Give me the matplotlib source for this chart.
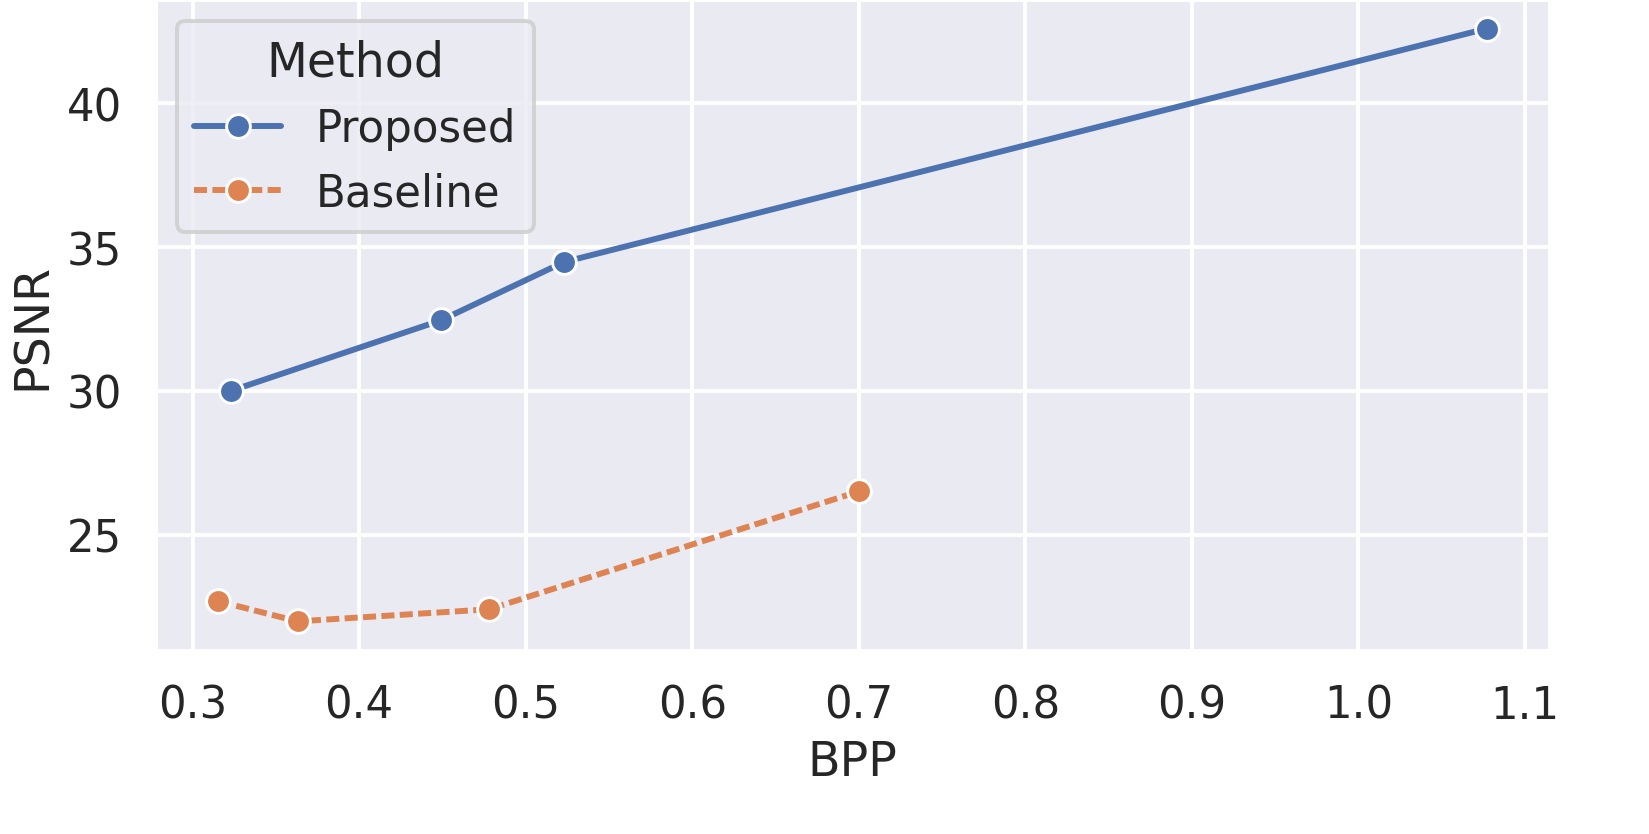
import matplotlib
matplotlib.use("Agg")
import matplotlib.pyplot as plt
import numpy as np
import pandas as pd
import seaborn as sns

# values
proposed_bpp = [0.323, 0.449, 0.523, 1.077]
proposed_psnr = [30.0, 32.45, 34.48, 42.6]

baseline_bpp = [0.3155, 0.363, 0.478, 0.700]
baseline_psnr = [22.68, 21.98, 22.40, 26.50]

methods = ["Proposed", "Baseline"]

df = pd.DataFrame(
    {
        "BPP": proposed_bpp + baseline_bpp,
        "PSNR": proposed_psnr + baseline_psnr,
        "Method": [methods[0]] * len(proposed_bpp) + [methods[1]] * len(baseline_bpp),
    }
)

sns.set_theme(context="talk", style="darkgrid")

fig = plt.figure(figsize=(1649 / 190, 835 / 190), dpi=190)
ax = fig.add_axes([155 / 1649, 1 - 652 / 835, (1550 - 155) / 1649, 652 / 835])

sns.lineplot(
    data=df,
    x="BPP",
    y="PSNR",
    hue="Method",
    style="Method",
    markers=["o", "o"],
    dashes=["", (2.2, 0.9)],
    hue_order=methods,
    style_order=methods,
    markeredgewidth=1.1,
    ax=ax,
)

ax.set_xticks(np.arange(0.3, 1.11, 0.1))
ax.set_yticks([25, 30, 35, 40])
ax.legend(title="Method", loc="upper left")

fig.savefig("out.png", dpi=190)
